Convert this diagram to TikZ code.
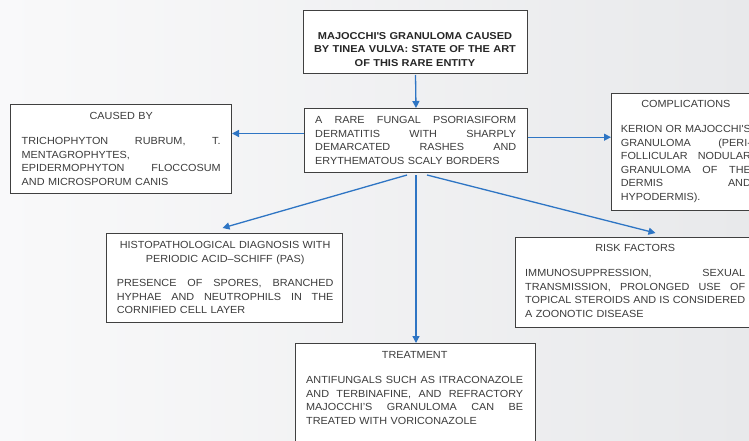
\documentclass[tikz,border=0pt]{standalone}
\usepackage{fontspec}
\setmainfont[FakeStretch=1.053]{Liberation Sans}
\newfontfamily\ttlfont[FakeStretch=1.1]{Liberation Sans}
\usetikzlibrary{arrows.meta,calc}
\definecolor{bgL}{RGB}{249,249,250}
\definecolor{bgR}{RGB}{232,233,235}
\definecolor{boxc}{RGB}{64,64,64}
\definecolor{txtc}{RGB}{60,60,60}
\definecolor{ttc}{RGB}{38,38,38}
\definecolor{arrc}{RGB}{46,117,196}
\newcommand\jl[1]{\makebox[\hsize][s]{\spaceskip=0pt\relax\xspaceskip=0pt\relax #1}}
\newcommand\ctl[1]{\makebox[\hsize][c]{#1}}
\begin{document}
\begin{tikzpicture}[x=1pt,y=-1pt,
  bx/.style n args={2}{draw=boxc,line width=1pt,fill=white,anchor=north west,inner sep=0pt,minimum width=#1,minimum height=#2},
  txt/.style={anchor=north west,inner sep=0pt,text width=#1,align=left,text=txtc,font=\fontsize{10.3}{13.5}\selectfont},
  arr/.style={draw=arrc,line width=1.3pt,-{Triangle[length=7pt,width=7pt]}}]
\clip (0,0) rectangle (749,441);
\shade[left color=bgL,right color=bgR] (0,0) rectangle (749,441);
% boxes
\node[bx={224pt}{63pt}] (tt) at (303,10) {};
\node[bx={223pt}{64pt}] (ctr) at (304,108) {};
\node[bx={221pt}{89pt}] (cb) at (10,104) {};
\node[bx={150pt}{117pt}] (cp) at (611,93) {};
\node[bx={236pt}{89pt}] (hp) at (106,233) {};
\node[bx={240pt}{90pt}] (rf) at (515,237) {};
\node[bx={240pt}{110pt}] (tr) at (295,343) {};
% texts
\node[anchor=north,inner sep=0pt,text width=224pt,align=center,text=ttc,
  font=\ttlfont\bfseries\fontsize{10}{13.2}\selectfont] (ttx) at (415,32.5)
  {MAJOCCHI\textquotesingle S GRANULOMA CAUSED\\BY TINEA VULVA: STATE OF THE ART\\OF THIS RARE ENTITY};
\node[txt=201pt] (ctrx) at (315,116.3)
  {\jl{A RARE FUNGAL PSORIASIFORM}\\\jl{DERMATITIS WITH SHARPLY}\\\jl{DEMARCATED RASHES AND}\\ERYTHEMATOUS SCALY BORDERS};
\node[txt=199pt] (cbx) at (21.5,112.6)
  {\ctl{CAUSED BY}\\[11.5pt]\jl{TRICHOPHYTON RUBRUM, T.}\\MENTAGROPHYTES,\\\jl{EPIDERMOPHYTON FLOCCOSUM}\\AND MICROSPORUM CANIS};
\node[txt=130pt] (cpx) at (620.7,100.6)
  {\ctl{COMPLICATIONS}\\[11.5pt]\jl{KERION OR MAJOCCHI\textquotesingle S}\\\jl{GRANULOMA (PERI-}\\\jl{FOLLICULAR NODULAR}\\\jl{GRANULOMA OF THE}\\\jl{DERMIS AND}\\HYPODERMIS).};
\node[txt=216.5pt] (hpx) at (116.7,241.3)
  {\ctl{HISTOPATHOLOGICAL DIAGNOSIS WITH}\\\ctl{PERIODIC ACID–SCHIFF (PAS)}\\[11.2pt]\jl{PRESENCE OF SPORES, BRANCHED}\\\jl{HYPHAE AND NEUTROPHILS IN THE}\\CORNIFIED CELL LAYER};
\node[txt=220pt] (rfx) at (525,244.6)
  {\ctl{RISK FACTORS}\\[11.5pt]\jl{IMMUNOSUPPRESSION, SEXUAL}\\\jl{TRANSMISSION, PROLONGED USE OF}\\\jl{TOPICAL STEROIDS AND IS CONSIDERED}\\A ZOONOTIC DISEASE};
\node[txt=217pt] (trx) at (306,351.3)
  {\ctl{TREATMENT}\\[11.5pt]\jl{ANTIFUNGALS SUCH AS ITRACONAZOLE}\\\jl{AND TERBINAFINE, AND REFRACTORY}\\\jl{MAJOCCHI’S GRANULOMA CAN BE}\\TREATED WITH VORICONAZOLE};
% connectors
\draw[arr] ([yshift=-1pt]tt.south) -- (ctr.north);
\draw[arr] ([yshift=7pt]ctr.west) -- ([yshift=7pt]ctr.west -| cb.east);
\draw[arr] ([yshift=3.3pt]ctr.east) -- ([yshift=3.3pt]ctr.east -| cp.west);
\draw[arr] ([xshift=-9pt,yshift=-2pt]ctr.south) -- ([xshift=-2pt,yshift=5pt]hp.north);
\draw[arr] ([yshift=-2pt]ctr.south) -- (ctr.south |- tr.north);
\draw[arr] ([xshift=11pt,yshift=-2pt]ctr.south) -- ([xshift=20pt,yshift=4pt]rf.north);
\end{tikzpicture}
\end{document}
